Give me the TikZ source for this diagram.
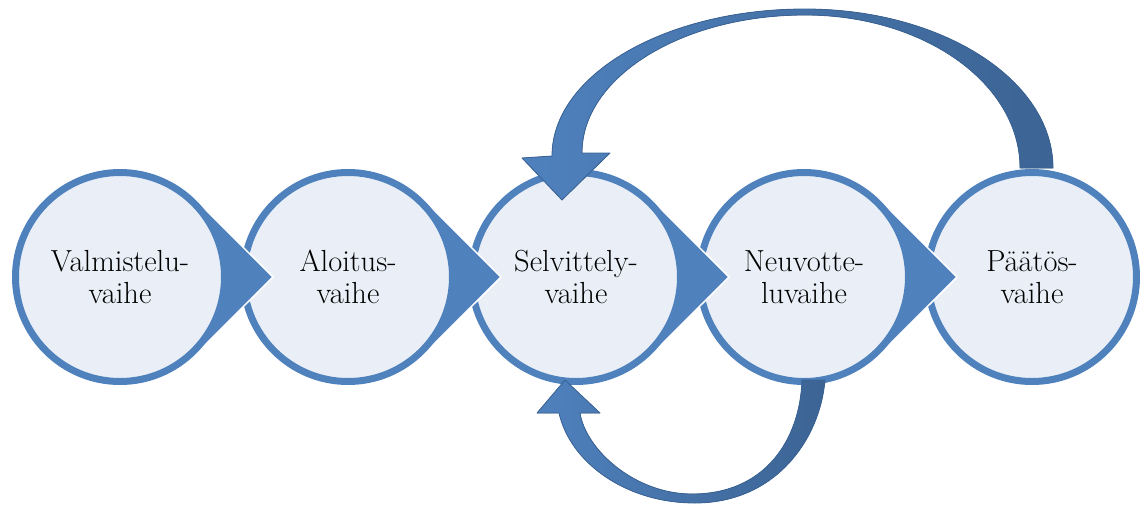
\documentclass[tikz,border=0pt]{standalone}
\usepackage{fontspec}
\definecolor{bmain}{HTML}{4F81BD}
\definecolor{bdark}{HTML}{3C6494}
\definecolor{bline}{HTML}{3A6396}
\definecolor{bfill}{HTML}{EAEFF7}
\begin{document}
\begin{tikzpicture}[x=1pt,y=-1pt,
  stage/.style={circle, draw=bmain, fill=bfill, line width=7pt, minimum size=209pt,
    inner sep=0pt, align=center, font=\rmfamily\fontsize{30.5}{32}\selectfont},
  chev/.style={fill=bmain, draw=white, line width=1.5pt, line join=miter},
  swoosh/.style={left color=bmain, right color=bdark, draw=bline, line width=0.8pt, line join=round}]
\useasboundingbox (0,0) rectangle (1144,506);

% stages drawn right to left so that each tip lies over the next circle
\node[stage] (s5) at (1032,277) {Päätös-\\vaihe};

\begin{scope}[shift={(804,277)}]
  \filldraw[chev] (76.4,-76.4) -- (153,0) coordinate (t4) -- (76.4,76.4) -- cycle;
\end{scope}
\node[stage] (s4) at (804,277) {Neuvotte-\\luvaihe};

\begin{scope}[shift={(576,277)}]
  \filldraw[chev] (76.4,-76.4) -- (153,0) coordinate (t3) -- (76.4,76.4) -- cycle;
\end{scope}
\node[stage] (s3) at (576,277) {Selvittely-\\vaihe};

\begin{scope}[shift={(348,277)}]
  \filldraw[chev] (76.4,-76.4) -- (153,0) coordinate (t2) -- (76.4,76.4) -- cycle;
\end{scope}
\node[stage] (s2) at (348,277) {Aloitus-\\vaihe};

\begin{scope}[shift={(120,277)}]
  \filldraw[chev] (76.4,-76.4) -- (153,0) coordinate (t1) -- (76.4,76.4) -- cycle;
\end{scope}
\node[stage] (s1) at (120,277) {Valmistelu-\\vaihe};

% top return arrow: Päätösvaihe -> Selvittelyvaihe
\filldraw[swoosh] (1053,168) .. controls (1053,80) and (942,9) .. (805,9)
  .. controls (665,9) and (552,75) .. (552,156)
  -- (522,158) -- (562,200) -- (610,153) -- (582,153)
  .. controls (582,77) and (682,15) .. (805,15)
  .. controls (924,15) and (1020,83.5) .. (1020,168)
  -- cycle;

% bottom return arrow: Neuvotteluvaihe -> Selvittelyvaihe
\filldraw[swoosh] (825,380) .. controls (820,440) and (775,503) .. (695,503)
  .. controls (625,503) and (570,462) .. (559,413)
  -- (537,413) -- (565,380) -- (600,413) -- (580,413)
  .. controls (586,450) and (635,494) .. (692,494)
  .. controls (765,494) and (800,440) .. (802,380)
  -- cycle;
\end{tikzpicture}
\end{document}
